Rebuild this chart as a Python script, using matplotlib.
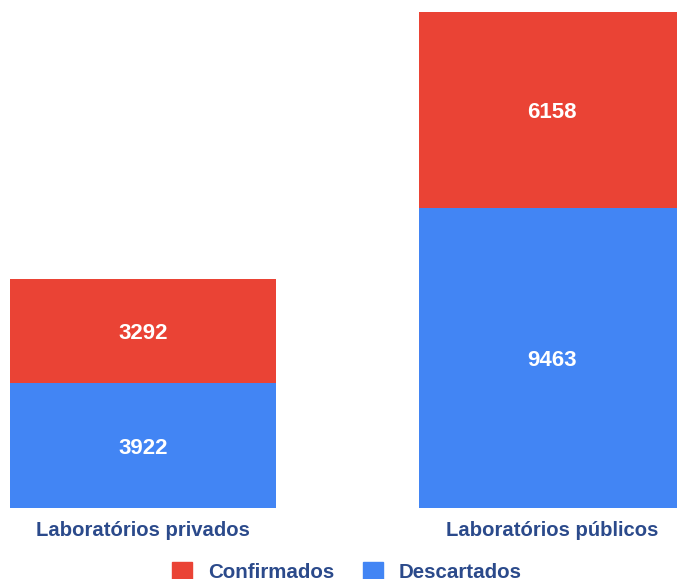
import matplotlib.pyplot as plt
from matplotlib.patches import Patch
import numpy as np

categories = ['Laboratórios privados', 'Laboratórios públicos']
descartados = [3922, 9463]
confirmados = [3292, 6158]

red = '#EA4335'
blue = '#4285F4'
txt = '#2B4A8B'

plt.rcParams['font.family'] = ['Liberation Sans', 'DejaVu Sans']

fig = plt.figure(figsize=(6.77, 5.79), dpi=100)
ax = fig.add_axes([0, 71 / 579, 1, 508 / 579])

x = np.arange(len(categories))
w = 0.65
ax.bar(x, descartados, w, color=blue)
ax.bar(x, confirmados, w, bottom=descartados, color=red)

for i in x:
    ax.text(i, descartados[i] / 2, str(descartados[i]), ha='center', va='center_baseline',
            color='white', fontsize=16, fontweight='bold')
    ax.text(i, descartados[i] + confirmados[i] / 2, str(confirmados[i]), ha='center',
            va='center_baseline', color='white', fontsize=16, fontweight='bold')

ax.set_xlim(-143 / 409, 1 + 125 / 409)
ax.set_ylim(0, 16000)
ax.set_xticks(x)
ax.set_xticklabels(categories, color=txt, fontsize=14.6, fontweight='bold')
ax.tick_params(axis='x', length=0, pad=9)
ax.set_yticks([])
for s in ax.spines.values():
    s.set_visible(False)

handles = [Patch(color=red, label='Confirmados'), Patch(color=blue, label='Descartados')]
leg = fig.legend(handles=handles, loc='center', bbox_to_anchor=(347 / 677, 1 - 572 / 579),
                 ncol=2, frameon=False, fontsize=14.8, handlelength=0.95, handleheight=0.95,
                 columnspacing=1.4, handletextpad=0.8)
for t in leg.get_texts():
    t.set_color(txt)
    t.set_fontweight('bold')

fig.savefig('out.png', dpi=100)
